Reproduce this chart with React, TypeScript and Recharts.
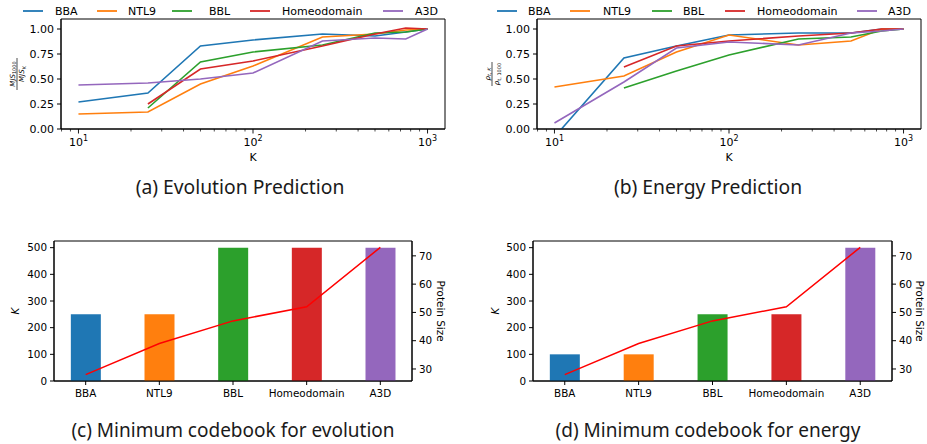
import React from "react";
import { LineChart, Line, XAxis, YAxis, ComposedChart, Bar, Cell, ReferenceArea } from "recharts";

const kValues = [10, 25, 50, 100, 250, 500, 750, 1000];
const proteins = ["BBA", "NTL9", "BBL", "Homeodomain", "A3D"];
const colors = ["#1f77b4", "#ff7f0e", "#2ca02c", "#d62728", "#9467bd"];

// (a) evolution prediction, MJS_1000 / MJS_K
const evoBBA = [0.27, 0.36, 0.83, 0.89, 0.95, 0.93, 0.97, 1.0];
const evoNTL9 = [0.15, 0.17, 0.45, 0.63, 0.92, 0.95, 0.99, 1.0];
const evoBBL = [null, 0.21, 0.67, 0.77, 0.84, 0.96, 0.97, 1.0];
const evoHomeo = [null, 0.25, 0.6, 0.68, 0.83, 0.95, 1.01, 1.0];
const evoA3D = [0.44, 0.46, 0.5, 0.56, 0.88, 0.91, 0.9, 1.0];

// (b) energy prediction, rho_t,K / rho_t,1000
const enBBA = [-0.08, 0.71, 0.83, 0.94, 0.96, 0.96, 1.0, 1.0];
const enNTL9 = [0.42, 0.53, 0.77, 0.94, 0.84, 0.88, 1.0, 1.0];
const enBBL = [null, 0.41, 0.58, 0.74, 0.9, 0.92, 0.98, 1.0];
const enHomeo = [null, 0.62, 0.83, 0.88, 0.93, 0.96, 1.0, 1.0];
const enA3D = [0.06, 0.47, 0.81, 0.87, 0.84, 0.96, 0.98, 1.0];

// (c), (d) minimum codebook size and protein size
const evoMinK = [250, 250, 500, 500, 500];
const energyMinK = [100, 100, 250, 250, 500];
const proteinSize = [28, 39, 47, 52, 73];

const logTicks = [8, 9, 10, 20, 30, 40, 50, 60, 70, 80, 90, 100, 200, 300, 400, 500, 600, 700, 800, 900, 1000];
const fracTicks = [0, 0.25, 0.5, 0.75, 1.0];

const FONT = "'DejaVu Sans', sans-serif";
const TITLE_FONT = "'Noto Sans', sans-serif";

const toRows = (series: (number | null)[][]) =>
  kValues.map((k, i) => {
    const row: any = { k };
    proteins.forEach((p, j) => (row[p] = series[j][i]));
    return row;
  });

const evoRows = toRows([evoBBA, evoNTL9, evoBBL, evoHomeo, evoA3D]);
const enRows = toRows([enBBA, enNTL9, enBBL, enHomeo, enA3D]);

const barRows = (minK: number[]) =>
  proteins.map((p, i) => ({ idx: i, name: p, k: minK[i], size: proteinSize[i] }));

function LogTick(props: any) {
  const { x, y, payload } = props;
  const v = payload.value;
  const exp = Math.round(Math.log10(v));
  const major = Math.abs(Math.log10(v) - exp) < 1e-9;
  return (
    <g>
      <line x1={x} x2={x} y1={y} y2={y + (major ? 4.5 : 2.5)} stroke="#000" strokeWidth={major ? 0.9 : 0.7} />
      {major && (
        <text x={x} y={y + 17} textAnchor="middle" fontSize={11} fontFamily={FONT} fill="#000">
          10<tspan dy={-5} fontSize={8}>{exp}</tspan>
        </text>
      )}
    </g>
  );
}

function PredictionChart({ rows, left, width, marginLeft, marginRight }: any) {
  return (
    <div style={{ position: "absolute", left, top: 0, width, height: 175 }}>
      <LineChart width={width} height={175} data={rows} margin={{ top: 19, right: marginRight, bottom: 16, left: marginLeft }}>
        <XAxis
          dataKey="k"
          type="number"
          scale="log"
          domain={[Math.pow(10, 0.9), Math.pow(10, 3.1)]}
          allowDataOverflow
          ticks={logTicks}
          interval={0}
          tick={(p: any) => <LogTick {...p} />}
          tickLine={false}
          tickSize={0}
          tickMargin={0}
          height={30}
          axisLine={{ stroke: "#000" }}
        />
        <YAxis
          type="number"
          domain={[0, 1.1]}
          allowDataOverflow
          ticks={fracTicks}
          tickFormatter={(v: number) => v.toFixed(2)}
          width={40}
          tickSize={4}
          tickMargin={3}
          tick={{ fill: "#000", fontSize: 11, fontFamily: FONT }}
          tickLine={{ stroke: "#000" }}
          axisLine={{ stroke: "#000" }}
        />
        <ReferenceArea x1={Math.pow(10, 0.9)} x2={Math.pow(10, 3.1)} y1={0} y2={1.1} fill="none" stroke="#000" strokeWidth={1} />
        {proteins.map((p, i) => (
          <Line
            key={p}
            dataKey={p}
            stroke={colors[i]}
            strokeWidth={1.6}
            dot={false}
            activeDot={false}
            connectNulls={false}
            isAnimationActive={false}
          />
        ))}
      </LineChart>
    </div>
  );
}

function CodebookChart({ rows, left, width, marginLeft, marginRight }: any) {
  return (
    <div style={{ position: "absolute", left, top: 230, width, height: 190 }}>
      <ComposedChart width={width} height={190} data={rows} margin={{ top: 11, right: marginRight, bottom: 14, left: marginLeft }}>
        <XAxis
          dataKey="idx"
          type="number"
          domain={[-0.43, 4.43]}
          ticks={[0, 1, 2, 3, 4]}
          interval={0}
          tickFormatter={(i: number) => proteins[i]}
          height={25}
          tickSize={4}
          tickMargin={5}
          tick={{ fill: "#000", fontSize: 10.4, fontFamily: FONT }}
          tickLine={{ stroke: "#000" }}
          axisLine={{ stroke: "#000" }}
        />
        <YAxis
          yAxisId="left"
          type="number"
          domain={[0, 525]}
          ticks={[0, 100, 200, 300, 400, 500]}
          width={40}
          tickSize={4}
          tickMargin={3}
          tick={{ fill: "#000", fontSize: 10.4, fontFamily: FONT }}
          tickLine={{ stroke: "#000" }}
          axisLine={{ stroke: "#000" }}
        />
        <YAxis
          yAxisId="right"
          orientation="right"
          type="number"
          domain={[25.75, 75.25]}
          ticks={[30, 40, 50, 60, 70]}
          width={30}
          tickSize={4}
          tickMargin={3}
          tick={{ fill: "#000", fontSize: 10.4, fontFamily: FONT }}
          tickLine={{ stroke: "#000" }}
          axisLine={{ stroke: "#000" }}
        />
        <ReferenceArea yAxisId="left" x1={-0.43} x2={4.43} y1={0} y2={525} fill="none" stroke="#000" strokeWidth={1} />
        <Bar yAxisId="left" dataKey="k" barSize={30} isAnimationActive={false}>
          {rows.map((r: any, i: number) => (
            <Cell key={r.name} fill={colors[i]} />
          ))}
        </Bar>
        <Line yAxisId="right" dataKey="size" stroke="#ff0000" strokeWidth={1.5} dot={false} activeDot={false} isAnimationActive={false} />
      </ComposedChart>
    </div>
  );
}

function LegendRow({ lineX, textX }: { lineX: number[]; textX: number[] }) {
  return (
    <g>
      {proteins.map((p, i) => (
        <g key={p}>
          <line x1={lineX[i]} x2={lineX[i] + 20} y1={11} y2={11} stroke={colors[i]} strokeWidth={1.8} />
          <text x={textX[i]} y={15} fontSize={11} fontFamily={FONT} fill="#000">{p}</text>
        </g>
      ))}
    </g>
  );
}

function Overlay() {
  const t = { fontFamily: FONT, fill: "#000" };
  return (
    <svg width={927} height={444} style={{ position: "absolute", left: 0, top: 0, pointerEvents: "none" }}>
      <LegendRow lineX={[23, 97, 172, 250, 383]} textX={[55, 128, 209, 282, 415]} />
      <LegendRow lineX={[497, 570, 652, 725, 857]} textX={[528, 603, 683, 757, 888]} />

      {/* y labels of the prediction plots */}
      <g transform="translate(17,74) rotate(-90)" {...t}>
        <text x={0} y={-2.5} textAnchor="middle" fontSize={7} fontStyle="italic">
          MJS<tspan fontSize={5} dy={1.5} fontStyle="normal">1000</tspan>
        </text>
        <line x1={-16} x2={16} y1={0} y2={0} stroke="#000" strokeWidth={0.7} />
        <text x={0} y={7} textAnchor="middle" fontSize={7} fontStyle="italic">
          MJS<tspan fontSize={5} dy={1.5}>K</tspan>
        </text>
      </g>
      <g transform="translate(492,74) rotate(-90)" {...t}>
        <text x={0} y={-2.5} textAnchor="middle" fontSize={7} fontStyle="italic">
          ρ<tspan fontSize={5} dy={1.5}>t, K</tspan>
        </text>
        <line x1={-12} x2={12} y1={0} y2={0} stroke="#000" strokeWidth={0.7} />
        <text x={0} y={7} textAnchor="middle" fontSize={7} fontStyle="italic">
          ρ<tspan fontSize={5} dy={1.5} fontStyle="normal">t, 1000</tspan>
        </text>
      </g>
      <text x={253} y={161} textAnchor="middle" fontSize={11} {...t}>K</text>
      <text x={729} y={161} textAnchor="middle" fontSize={11} {...t}>K</text>

      {/* axis labels of the codebook plots */}
      <text transform="translate(19,311) rotate(-90)" textAnchor="middle" fontSize={10.4} fontStyle="italic" {...t}>K</text>
      <text transform="translate(437,311) rotate(90)" textAnchor="middle" fontSize={10.4} {...t}>Protein Size</text>
      <text transform="translate(499,311) rotate(-90)" textAnchor="middle" fontSize={10.4} fontStyle="italic" {...t}>K</text>
      <text transform="translate(916,311) rotate(90)" textAnchor="middle" fontSize={10.4} {...t}>Protein Size</text>

      {/* sub-figure captions */}
      <text x={240} y={194} textAnchor="middle" fontSize={19.3} fontFamily={TITLE_FONT} fill="#1a1a1a">(a) Evolution Prediction</text>
      <text x={708} y={194} textAnchor="middle" fontSize={19.3} fontFamily={TITLE_FONT} fill="#1a1a1a">(b) Energy Prediction</text>
      <text x={233} y={437} textAnchor="middle" fontSize={19} fontFamily={TITLE_FONT} fill="#1a1a1a">(c) Minimum codebook for evolution</text>
      <text x={708} y={437} textAnchor="middle" fontSize={19} fontFamily={TITLE_FONT} fill="#1a1a1a">(d) Minimum codebook for energy</text>
    </svg>
  );
}

export default function App() {
  return (
    <div style={{ position: "absolute", left: 0, top: 0, width: 927, height: 444, background: "#fff", overflow: "hidden" }}>
      <PredictionChart rows={evoRows} left={0} width={463} marginLeft={21} marginRight={18} />
      <PredictionChart rows={enRows} left={460} width={467} marginLeft={37} marginRight={6} />
      <CodebookChart rows={barRows(evoMinK)} left={0} width={463} marginLeft={14} marginRight={21} />
      <CodebookChart rows={barRows(energyMinK)} left={460} width={467} marginLeft={33} marginRight={5} />
      <Overlay />
    </div>
  );
}
